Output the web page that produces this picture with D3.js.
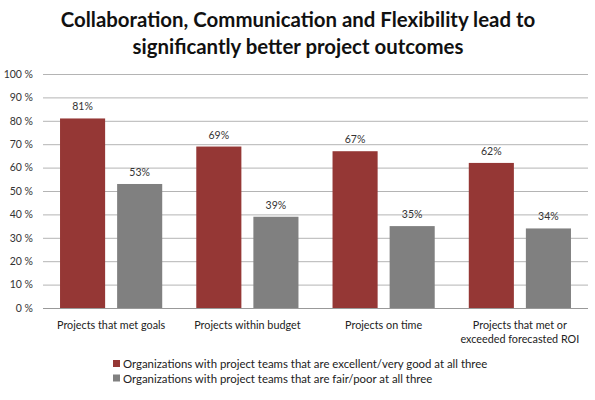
<!DOCTYPE html>
<html><head><meta charset="utf-8">
<script src="https://cdn.jsdelivr.net/npm/d3@7"></script>
<style>body{margin:0;background:#fff}svg{display:block}</style>
</head><body><svg id="c" width="595" height="400"></svg>
<script>
const titleLines = ["Collaboration, Communication and Flexibility lead to", "significantly better project outcomes"];
const categories = [["Projects that met goals"], ["Projects within budget"], ["Projects on time"], ["Projects that met or", "exceeded forecasted ROI"]];
const seriesNames = ["Organizations with project teams that are excellent/very good at all three", "Organizations with project teams that are fair/poor at all three"];
const excellentValues = [81, 69, 67, 62];
const fairValues = [53, 39, 35, 34];
const yTicks = [0,10,20,30,40,50,60,70,80,90,100];
const colors = ["#953735", "#808080"];

const svg = d3.select("#c");
const font = "Lato, 'Open Sans', sans-serif";
const m = {l:43, r:588, t:74, b:308};

const x0 = d3.scaleBand().domain(d3.range(categories.length)).range([m.l, m.r]).paddingInner(0.25).paddingOuter(0.125);
const x1 = d3.scaleBand().domain([0,1]).range([0, x0.bandwidth()]).paddingInner(0.21);
const y = d3.scaleLinear().domain([0,100]).range([m.b, m.t]);

// title
svg.append("g").selectAll("text").data(titleLines).join("text")
  .attr("x", 298).attr("y", (d,i)=>27 + i*27).attr("text-anchor","middle")
  .attr("font-family", font).attr("font-weight","bold").attr("font-size", 20.4).attr("fill","#111")
  .text(d=>d);

// y axis with gridlines
const yAxis = d3.axisLeft(y).tickValues(yTicks).tickSize(-(m.r-m.l)).tickPadding(10).tickFormat(d=>d+" %");
const ga = svg.append("g").attr("transform", `translate(${m.l},0)`).call(yAxis);
ga.select(".domain").remove();
ga.selectAll(".tick line").attr("stroke","#b4b4b4").attr("stroke-width",1);
ga.selectAll(".tick text").attr("font-family", font).attr("font-size", 10.5).attr("fill","#333");

// bars
const data = categories.map((c,i)=>({i, vals:[excellentValues[i], fairValues[i]]}));
const g = svg.append("g");
const grp = g.selectAll("g").data(data).join("g").attr("transform", d=>`translate(${x0(d.i)},0)`);
grp.selectAll("rect").data(d=>d.vals.map((v,k)=>({v,k}))).join("rect")
  .attr("x", d=>x1(d.k)).attr("width", x1.bandwidth())
  .attr("y", d=>y(d.v)).attr("height", d=>y(0)-y(d.v)).attr("fill", d=>colors[d.k]);
grp.selectAll("text").data(d=>d.vals.map((v,k)=>({v,k}))).join("text")
  .attr("x", d=>x1(d.k)+x1.bandwidth()/2).attr("y", d=>y(d.v)-8).attr("text-anchor","middle")
  .attr("font-family", font).attr("font-size", 10.5).attr("fill","#333").text(d=>d.v+"%");

// baseline
svg.append("line").attr("x1", m.l).attr("x2", m.r).attr("y1", y(0)+0.5).attr("y2", y(0)+0.5).attr("stroke","#999");

// x axis labels
const xl = svg.append("g").selectAll("text").data(categories).join("text")
  .attr("x", (d,i)=>x0(i)+x0.bandwidth()/2).attr("y", 329).attr("text-anchor","middle")
  .attr("font-family", font).attr("font-size", 10.8).attr("fill","#222");
xl.selectAll("tspan").data(d=>d).join("tspan").attr("x", function(){return this.parentNode.getAttribute("x");})
  .attr("dy", (d,i)=>i?14:0).text(d=>d);

// legend
const lg = svg.append("g").selectAll("g").data(seriesNames).join("g").attr("transform", (d,i)=>`translate(113,${364+i*14.5})`);
lg.append("rect").attr("x",0).attr("y",-4).attr("width",7).attr("height",7).attr("fill",(d,i)=>colors[i]);
lg.append("text").attr("x",10).attr("y",4).attr("font-family", font).attr("font-size", 11.4).attr("fill","#222").text(d=>d);
</script></body></html>
